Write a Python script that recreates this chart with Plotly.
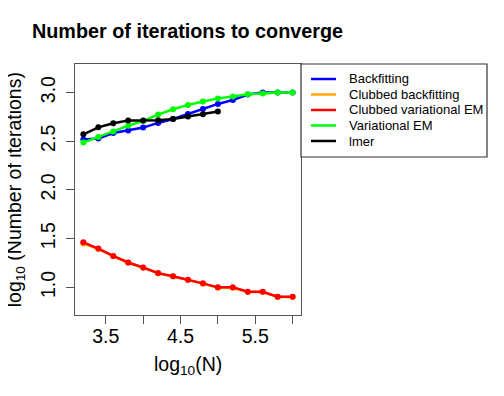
import plotly.graph_objects as go

# log10(N) grid
log_n = [3.2, 3.4, 3.6, 3.8, 4.0, 4.2, 4.4, 4.6, 4.8, 5.0, 5.2, 5.4, 5.6, 5.8, 6.0]
log_n_lmer = [3.2, 3.4, 3.6, 3.8, 4.0, 4.2, 4.4, 4.6, 4.8, 5.0]

# log10(number of iterations) per method
backfitting = [2.518, 2.528, 2.585, 2.61, 2.64, 2.688, 2.729, 2.78, 2.831, 2.883, 2.924, 2.979, 3.0, 3.0, 3.0]
clubbed_backfitting = [1.450, 1.394, 1.319, 1.252, 1.201, 1.143, 1.111, 1.076, 1.038, 0.997, 0.994, 0.951, 0.951, 0.900, 0.900]
clubbed_vem = [1.462, 1.398, 1.322, 1.255, 1.204, 1.146, 1.114, 1.079, 1.041, 1.0, 1.0, 0.954, 0.954, 0.903, 0.903]
variational_em = [2.486, 2.544, 2.6, 2.66, 2.708, 2.774, 2.828, 2.873, 2.908, 2.94, 2.96, 2.983, 2.99, 3.0, 3.0]
lmer = [2.571, 2.643, 2.684, 2.712, 2.712, 2.715, 2.729, 2.753, 2.777, 2.805]

x_tickvals = [3.5, 4.0, 4.5, 5.0, 5.5, 6.0]
x_ticktext = ["3.5", "", "4.5", "", "5.5", ""]
y_tickvals = [1.0, 1.5, 2.0, 2.5, 3.0]
y_ticktext = ["1.0", "1.5", "2.0", "2.5", "3.0"]

series = [
    ("Backfitting", log_n, backfitting, "#0000FF"),
    ("Clubbed backfitting", log_n, clubbed_backfitting, "#FFA500"),
    ("Clubbed variational EM", log_n, clubbed_vem, "#FF0000"),
    ("Variational EM", log_n, variational_em, "#00FF00"),
    ("lmer", log_n_lmer, lmer, "#000000"),
]

FONT = "Liberation Sans, Arial, Helvetica, sans-serif"
AXIS_COL = "#555555"

# the page body adds an 8px offset, so the figure is 8px smaller than the window
W, H = 496, 388
PLOT_L, PLOT_T, PLOT_W, PLOT_H = 67, 56, 226, 251

fig = go.Figure()
for name, xs, ys, col in series:
    fig.add_trace(go.Scatter(x=xs, y=ys, mode="lines+markers", name=name,
                             line=dict(color=col, width=2.5),
                             marker=dict(color=col, size=6),
                             showlegend=False))

fig.update_layout(
    width=W, height=H,
    margin=dict(l=PLOT_L, r=W - PLOT_L - PLOT_W, t=PLOT_T, b=H - PLOT_T - PLOT_H),
    plot_bgcolor="white", paper_bgcolor="white",
    font=dict(family=FONT, color="black"),
    title=dict(text="Number of iterations to converge", xref="container", x=24 / W,
               xanchor="left", yref="container", y=1 - 23 / H, yanchor="middle",
               font=dict(size=19.8, weight="bold", family=FONT)),
    showlegend=False,
)
fig.update_xaxes(range=[3.088, 6.112], tickvals=x_tickvals, ticktext=x_ticktext,
                 showgrid=False, zeroline=False, showline=True, mirror=True,
                 linecolor=AXIS_COL, linewidth=1.2, ticks="outside", ticklen=8,
                 tickcolor=AXIS_COL, tickwidth=1.2, tickfont=dict(size=19.5),
                 ticklabelstandoff=-5)
fig.update_yaxes(range=[0.716, 3.293], tickvals=y_tickvals, ticktext=y_ticktext,
                 showgrid=False, zeroline=False, showline=True, mirror=True,
                 linecolor=AXIS_COL, linewidth=1.2, ticks="outside", ticklen=8,
                 tickcolor=AXIS_COL, tickwidth=1.2, tickangle=-90,
                 tickfont=dict(size=19.5), ticklabelstandoff=3)

fig.add_annotation(text="log<sub>10</sub>(N)", xref="paper", yref="paper",
                   x=0.5, y=-0.2, xanchor="center", yanchor="middle",
                   showarrow=False, font=dict(size=19.5))
fig.add_annotation(text="log<sub>10</sub> (Number of iterations)", xref="paper", yref="paper",
                   x=-0.262, y=0.5, xanchor="center", yanchor="middle", textangle=-90,
                   showarrow=False, font=dict(size=19.5))

# legend box in the R style, sitting against the right edge of the plot
def px_x(p):
    return (p - PLOT_L) / PLOT_W

def px_y(p):
    return (PLOT_T + PLOT_H - p) / PLOT_H

fig.add_shape(type="rect", xref="paper", yref="paper",
              x0=1.0, x1=px_x(479), y0=px_y(149), y1=1.0,
              line=dict(color="#333333", width=1.2), fillcolor="white", layer="above")
for i, (name, xs, ys, col) in enumerate(series):
    yy = px_y(71 + 15.5 * i)
    fig.add_shape(type="line", xref="paper", yref="paper",
                  x0=px_x(303), x1=px_x(328), y0=yy, y1=yy,
                  line=dict(color=col, width=2.5), layer="above")
    fig.add_annotation(text=name, xref="paper", yref="paper", x=px_x(339), y=yy,
                       xanchor="left", yanchor="middle", showarrow=False,
                       font=dict(size=13))

fig.write_html("out.html")
